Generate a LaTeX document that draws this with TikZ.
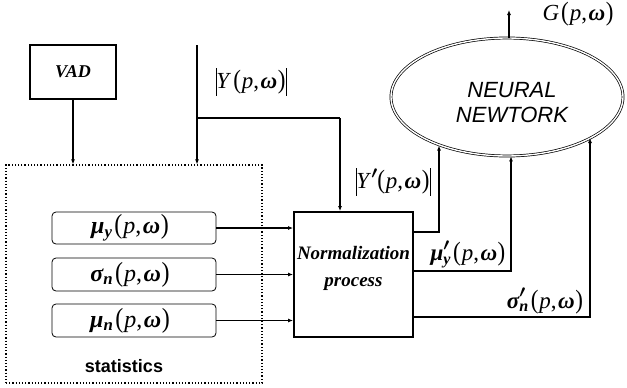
\documentclass[tikz,border=0pt]{standalone}
\usepackage{fontspec}
\usepackage{graphicx}
\usepackage{amsmath}
\setmainfont{Liberation Serif}
\newfontfamily\arialfont{Liberation Sans}
\usetikzlibrary{shapes.geometric,arrows.meta}
\newcommand{\absbar}{\rule[-0.3em]{0.8pt}{1.18em}}
\newcommand{\gk}[1]{{\bfseries\itshape #1}}
\newcommand{\lp}{\scalebox{1}[1.15]{(}}
\newcommand{\rp}{\scalebox{1}[1.15]{)}}
\newcommand{\pw}{\kern2pt\lp\kern1pt\textit{p},\kern1.5pt\gk{ω}\kern0.5pt\rp}
\newcommand{\sub}[1]{\textsubscript{\gk{#1}}}
\newcommand{\prm}{\rlap{\raisebox{0.05em}{$\boldsymbol{'}$}}}
\begin{document}
\begin{tikzpicture}[x=1pt,y=-1pt,
  thickbox/.style={draw,line width=1.8pt,inner sep=0pt},
  statitem/.style={draw,rounded corners=4pt,line width=0.8pt,minimum width=164pt,minimum height=32pt,inner sep=0pt,font=\fontsize{24}{25}\selectfont},
  conn/.style={line width=1.1pt},
  arr/.style={conn,-{Latex[length=5pt,width=4pt]}},
  lbl/.style={inner sep=0pt,font=\fontsize{23}{24}\selectfont}]
\useasboundingbox (0,0) rectangle (627,388);
% VAD
\node[thickbox,minimum width=86pt,minimum height=54pt,font=\fontsize{18}{20}\selectfont\bfseries\itshape] (vad) at (73,72) {VAD};
% statistics dotted box
\node[draw,dotted,line width=1.2pt,minimum width=256pt,minimum height=218pt,inner sep=0pt] (stat) at (134,274) {};
\node[inner sep=0pt,font=\arialfont\bfseries\fontsize{18}{19}\selectfont] (statlbl) at (124,366) {statistics};
\node[statitem] (s1) at (134,228) {\gk{μ}\sub{y}\pw\kern8pt};
\node[statitem,minimum height=33pt] (s2) at (134,274.5) {\gk{σ}\sub{n}\pw\kern8pt};
\node[statitem,minimum height=33pt] (s3) at (134,320.5) {\gk{μ}\sub{n}\pw\kern8pt};
% normalization
\node[thickbox,minimum width=119pt,minimum height=125pt] (norm) at (353.5,274.5) {};
\node[align=center,inner sep=0pt,font=\fontsize{19}{27}\selectfont\bfseries\itshape] (normtxt) at (353.5,268.5) {Normalization\\process};
% neural network
\node[draw,ellipse,double,double distance=1.4pt,line width=0.7pt,minimum width=232pt,minimum height=118pt] (nn) at (507,97) {};
\node[align=center,inner sep=0pt,font=\arialfont\itshape\fontsize{22}{25}\selectfont] (nntxt) at (512,102.5) {NEURAL\\NEWTORK};
% Y input
\coordinate (ytop) at (197,45);
\coordinate (yb) at (197,118);
\coordinate (yc) at (340,118);
\draw[arr] (ytop) -- (ytop |- stat.north);
\draw[conn] (yb) -- (yc);
\draw[arr] (yc) -- (yc |- norm.north);
\draw[arr] (vad.south) -- (vad.south |- stat.north);
% stats to norm
\draw[arr] (s1.east) -- (s1.east -| norm.west);
\draw[arr] (s2.east) -- (s2.east -| norm.west);
\draw[arr] (s3.east) -- (s3.east -| norm.west);
% outputs
\coordinate (o1) at (439,232);
\coordinate (o2) at (511,271);
\coordinate (o3) at (590,317);
\draw[arr] (o1 -| norm.east) -- (o1) -- (nn.216 -| o1);
\draw[arr] (o2 -| norm.east) -- (o2) -- (nn.south -| o2);
\draw[arr] (o3 -| norm.east) -- (o3) -- (nn.334 -| o3);
% G output
\coordinate (gtop) at (509,10);
\draw[arr] (nn.north -| gtop) -- (gtop);
% labels
\node[lbl] (ly) at (251,82) {\absbar\textit{Y}\pw\absbar};
\node[lbl] (lyp) at (393,182) {\absbar\textit{Y}\prm\kern4pt\pw\absbar};
\node[lbl] (lmu) at (468,254) {\gk{μ}\prm\sub{y}\pw};
\node[lbl] (lsig) at (545,301) {\gk{σ}\prm\sub{n}\pw};
\node[lbl] (lg) at (578,14) {\textit{G}\pw};
\end{tikzpicture}
\end{document}
